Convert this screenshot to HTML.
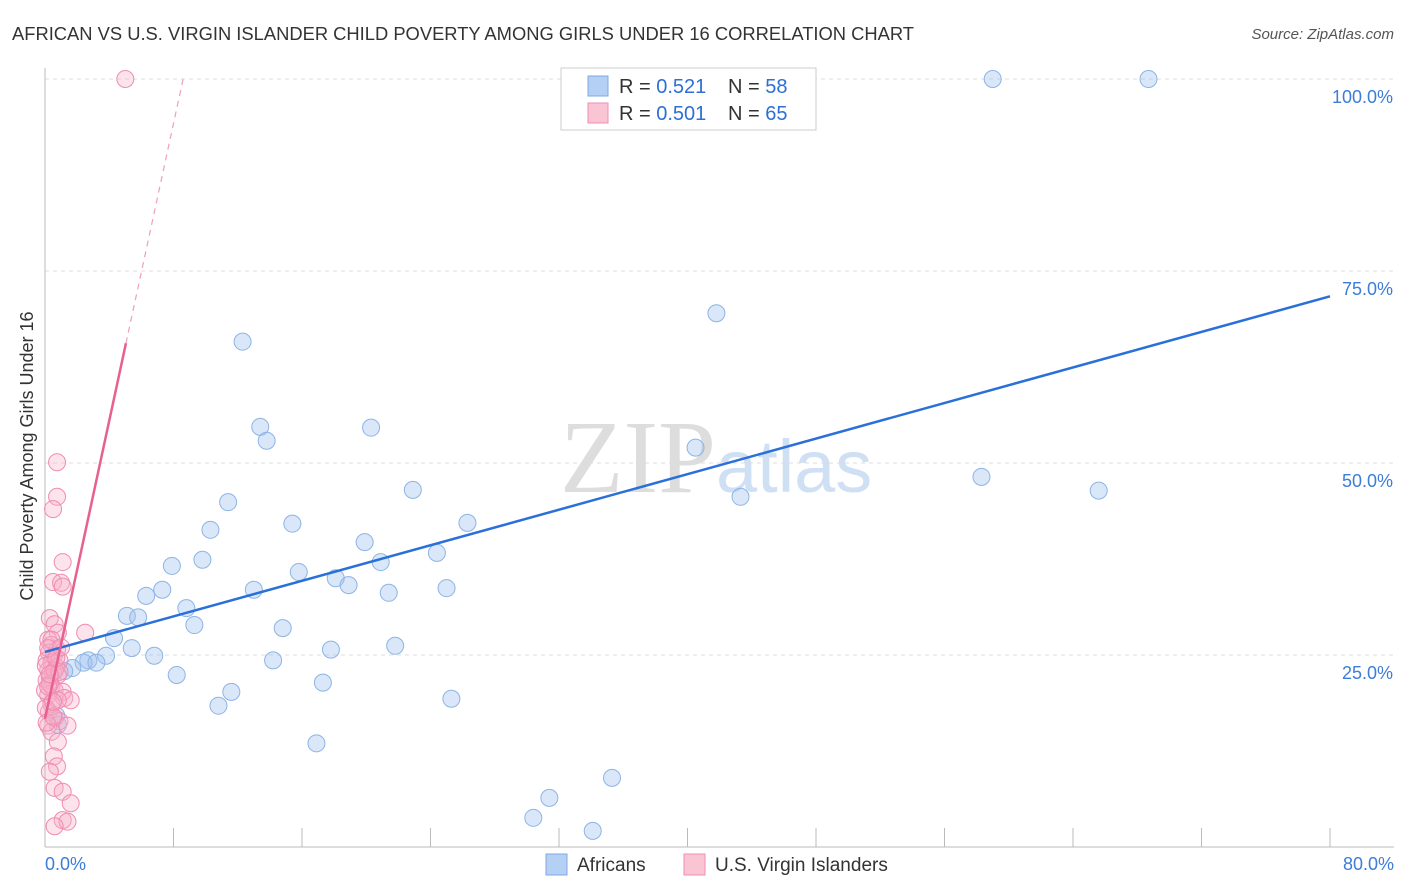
<!DOCTYPE html>
<html><head><meta charset="utf-8">
<style>
body{margin:0;background:#fff;font-family:"Liberation Sans",sans-serif;}
svg{display:block}
</style></head><body>
<svg id="chart" width="1406" height="892">
<text x="12" y="40" font-size="18" fill="#333" textLength="902" lengthAdjust="spacingAndGlyphs">AFRICAN VS U.S. VIRGIN ISLANDER CHILD POVERTY AMONG GIRLS UNDER 16 CORRELATION CHART</text>
<text x="1394" y="39" font-size="15" fill="#555" font-style="italic" text-anchor="end">Source: ZipAtlas.com</text>
<text x="716" y="492" font-size="104" fill="#ddd" text-anchor="end" font-family="Liberation Serif">ZIP</text>
<text x="716" y="492" font-size="74" fill="#cfe0f4">atlas</text>
<g id="grid"></g>
<g id="axes"></g>
<g id="marks"></g>
<text transform="translate(33,456) rotate(-90)" font-size="18" fill="#333" text-anchor="middle">Child Poverty Among Girls Under 16</text>
<g>
<rect x="561" y="68" width="255" height="62" fill="#fff" stroke="#ccc"/>
<rect x="588" y="76" width="20" height="20" fill="#b4d0f4" stroke="#7fa9e0"/>
<text x="619" y="93" font-size="20" fill="#333">R = <tspan fill="#2d6fd6">0.521</tspan></text>
<text x="728" y="93" font-size="20" fill="#333">N = <tspan fill="#2d6fd6">58</tspan></text>
<rect x="588" y="103" width="20" height="20" fill="#f9c4d4" stroke="#ee8fb0"/>
<text x="619" y="120" font-size="20" fill="#333">R = <tspan fill="#2d6fd6">0.501</tspan></text>
<text x="728" y="120" font-size="20" fill="#333">N = <tspan fill="#2d6fd6">65</tspan></text>
</g>
<g>
<rect x="546" y="854" width="21" height="21" fill="#b4d0f4" stroke="#7fa9e0"/>
<text x="577" y="871" font-size="19" fill="#333">Africans</text>
<rect x="684" y="854" width="21" height="21" fill="#f9c4d4" stroke="#ee8fb0"/>
<text x="715" y="871" font-size="19" fill="#333">U.S. Virgin Islanders</text>
</g>
</svg>
<script>
const xTicks=[0,8,16,24,32,40,48,56,64,72,80];
const yTicks=[25,50,75,100];
const yTickLabels=["25.0%","50.0%","75.0%","100.0%"];
const africansX=[59.0,68.7,41.8,12.3,13.4,13.8,20.3,40.5,58.3,65.6,43.3,22.9,11.4,26.3,15.4,10.3,19.9,24.4,9.8,20.9,7.9,15.8,18.1,18.9,13.0,7.3,25.0,21.4,6.3,8.8,5.1,5.8,9.3,14.8,4.3,5.4,21.8,17.8,6.8,3.8,2.7,14.2,2.4,3.2,1.7,1.2,8.2,17.3,11.6,25.3,10.8,0.7,16.9,35.3,31.4,30.4,34.1,0.8];
const africansY=[100,100,69.5,65.8,54.7,52.9,54.6,52.0,48.2,46.4,45.6,46.5,44.9,42.2,42.1,41.3,39.7,38.3,37.4,37.1,36.6,35.8,35.0,34.1,33.5,33.5,33.7,33.1,32.7,31.1,30.1,29.9,28.9,28.5,27.2,25.9,26.2,25.7,24.9,24.9,24.3,24.3,24.0,24.0,23.3,22.9,22.4,21.4,20.2,19.3,18.4,17.1,13.5,9.0,6.4,3.8,2.1,15.9];
const islandersX=[5.0,0.75,0.75,0.5,1.1,0.5,1.0,1.1,0.3,0.6,2.5,0.8,0.2,0.4,0.75,0.25,0.55,0.1,0.4,0.7,0.2,0.5,0.8,0.1,0.4,0.6,1.1,0.2,1.2,1.6,0.4,0.25,0.6,0.9,0.2,1.4,0.4,0.8,0.55,0.75,0.3,0.6,1.1,1.6,1.1,1.4,0.6,0.05,0.3,0.9,0.0,0.8,0.05,0.4,0.2,0.6,0.3,0.9,0.1,0.5,0.7,0.2,1.0,0.3,0.5];
const islandersY=[100,50.1,45.6,44.0,37.1,34.5,34.4,33.9,29.8,29.0,27.9,27.9,27.0,26.3,25.7,25.3,24.9,24.3,24.0,23.4,23.0,22.7,22.4,21.7,21.0,20.4,20.2,19.8,19.4,19.1,18.6,17.6,16.8,16.4,15.8,15.8,15.0,13.7,11.8,10.5,9.8,7.7,7.2,5.7,3.5,3.3,2.7,23.6,22.1,24.3,20.4,19.1,18.1,27.0,25.9,23.0,21.2,22.8,16.2,17.0,24.6,20.9,26.0,22.5,18.9];
const africansTrend=[[0,25.4],[80,71.7]];
const islandersTrendSolid=[[0,16.7],[5.04,65.6]];
const islandersTrendDash=[[5.04,65.6],[8.6,100]];

const NS="http://www.w3.org/2000/svg";
const X=v=>45+v*(1285/80);
const Y=v=>847-v*7.68;
function mk(tag,attrs,parent){const e=document.createElementNS(NS,tag);for(const k in attrs)e.setAttribute(k,attrs[k]);parent.appendChild(e);return e;}
const grid=document.getElementById('grid'),axes=document.getElementById('axes'),marks=document.getElementById('marks');
yTicks.forEach((t,i)=>{
  const l=mk('line',{x1:45,x2:1394,y1:Y(t),y2:Y(t),stroke:'#ddd','stroke-dasharray':'4,4'},grid);
  
  
  const tx=mk('text',{x:1393,y:Y(t)+24,'font-size':18,fill:'#3b7dd8','text-anchor':'end'},axes);
  tx.textContent=yTickLabels[i];
  
  
});
const ya=mk('line',{x1:45,x2:45,y1:68,y2:847,stroke:'#bbb'},axes);


const xa=mk('line',{x1:45,x2:1394,y1:847,y2:847,stroke:'#bbb'},axes);


xTicks.forEach(t=>{
  const l=mk('line',{x1:X(t),x2:X(t),y1:828,y2:847,stroke:'#bbb'},axes);
  
  
});
[[0,"0.0%","start",45],[80,"80.0%","end",1394]].forEach(d=>{
  const tx=mk('text',{x:d[3],y:870,'font-size':18,fill:'#3b7dd8','text-anchor':d[2]},axes);
  tx.textContent=d[1];
  
  
});
africansX.forEach((v,i)=>{
  const c=mk('circle',{cx:X(v),cy:Y(africansY[i]),r:8.5,fill:'rgba(160,196,240,0.4)',stroke:'#8db4e6','stroke-width':1},marks);
  
  
});
islandersX.forEach((v,i)=>{
  const c=mk('circle',{cx:X(v),cy:Y(islandersY[i]),r:8.5,fill:'rgba(247,176,200,0.35)',stroke:'#f08cb0','stroke-width':1},marks);
  
  
});
const t1=mk('line',{x1:X(africansTrend[0][0]),y1:Y(africansTrend[0][1]),x2:X(africansTrend[1][0]),y2:Y(africansTrend[1][1]),stroke:'#2a70d8','stroke-width':2.5},marks);


const t2=mk('line',{x1:X(islandersTrendSolid[0][0]),y1:Y(islandersTrendSolid[0][1]),x2:X(islandersTrendSolid[1][0]),y2:Y(islandersTrendSolid[1][1]),stroke:'#e8608f','stroke-width':2.5},marks);


const t3=mk('line',{x1:X(islandersTrendDash[0][0]),y1:Y(islandersTrendDash[0][1]),x2:X(islandersTrendDash[1][0]),y2:Y(islandersTrendDash[1][1]),stroke:'#eea0bb','stroke-width':1.2,'stroke-dasharray':'6,5'},marks);


</script>
</body></html>
